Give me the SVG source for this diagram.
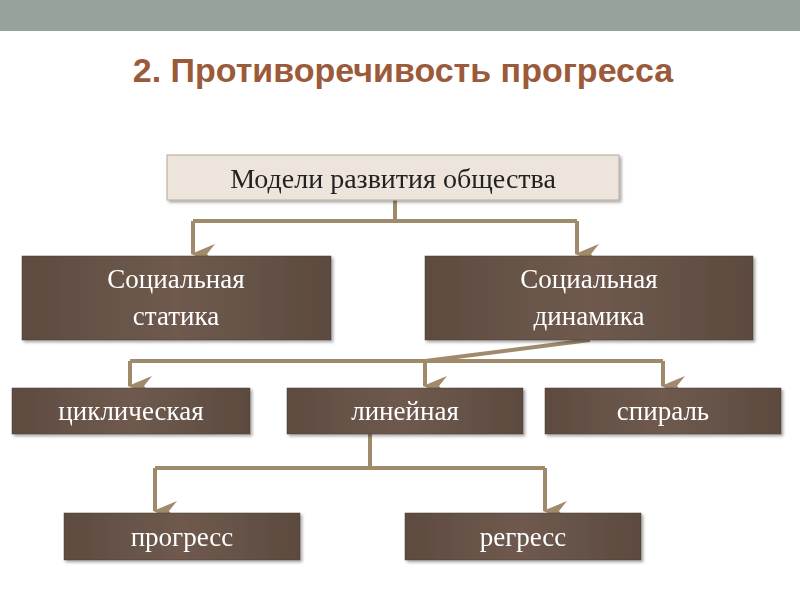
<svg xmlns="http://www.w3.org/2000/svg" width="800" height="600" viewBox="0 0 800 600">
<style>
.box{fill:url(#bg);stroke:#4a3a30;stroke-width:0.5}
.bt{font-family:"Liberation Serif",serif;font-size:27px;fill:#fff;text-anchor:middle}
.ln{fill:none;stroke:#a08a6c;stroke-width:4}
</style>
<defs>
<linearGradient id="bg" x1="0" x2="1" y1="0" y2="0">
<stop offset="0" stop-color="#5e4b40"/><stop offset="0.5" stop-color="#6f5a4e"/><stop offset="1" stop-color="#5c4a3f"/>
</linearGradient>
<marker id="ar" viewBox="0 0 10 12" refX="5" refY="11" markerWidth="5" markerHeight="6" orient="auto-start-reverse" markerUnits="strokeWidth">
<path d="M0,0 L5,4 L10,0 L5,12 Z" fill="#a08a6c"/>
</marker>
<filter id="sh" x="-5%" y="-5%" width="110%" height="120%"><feDropShadow dx="2" dy="2" stdDeviation="1.5" flood-opacity="0.35"/></filter>
</defs>
<rect width="800" height="600" fill="#fff"/>
<rect width="800" height="31" fill="#95a39a"/>
<text x="403" y="82" font-family="Liberation Sans,sans-serif" font-weight="bold" font-size="34" fill="#9b5a3a" text-anchor="middle">2. Противоречивость прогресса</text>
<g id="connectors">
<path class="ln" d="M395,200 V221 M193,221 H577"/>
<path class="ln" d="M193,221 V254" marker-end="url(#ar)"/>
<path class="ln" d="M577,221 V254" marker-end="url(#ar)"/>
<path class="ln" d="M590,340 L425,361 M130,361 H663"/>
<path class="ln" d="M130,361 V386" marker-end="url(#ar)"/>
<path class="ln" d="M425,361 V386" marker-end="url(#ar)"/>
<path class="ln" d="M663,361 V386" marker-end="url(#ar)"/>
<path class="ln" d="M370,434 V468 M155,468 H545"/>
<path class="ln" d="M155,468 V511" marker-end="url(#ar)"/>
<path class="ln" d="M545,468 V511" marker-end="url(#ar)"/>
</g>
<g id="root" filter="url(#sh)"><rect x="167" y="155" width="452" height="45" fill="#ede4dc" stroke="#b8a898"/><text x="393" y="188" font-family="Liberation Serif,serif" font-size="28" fill="#222" text-anchor="middle">Модели развития общества</text></g>
<g id="statika" filter="url(#sh)"><rect class="box" x="22" y="256" width="309" height="84"/><text class="bt" x="176" y="288">Социальная</text><text class="bt" x="176" y="325">статика</text></g>
<g id="dinamika" filter="url(#sh)"><rect class="box" x="425" y="256" width="328" height="84"/><text class="bt" x="589" y="288">Социальная</text><text class="bt" x="589" y="325">динамика</text></g>
<g id="cycl" filter="url(#sh)"><rect class="box" x="12" y="388" width="238" height="46"/><text class="bt" x="131" y="420">циклическая</text></g>
<g id="lin" filter="url(#sh)"><rect class="box" x="287" y="388" width="236" height="46"/><text class="bt" x="405" y="420">линейная</text></g>
<g id="spir" filter="url(#sh)"><rect class="box" x="545" y="388" width="236" height="46"/><text class="bt" x="663" y="420">спираль</text></g>
<g id="prog" filter="url(#sh)"><rect class="box" x="64" y="513" width="236" height="47"/><text class="bt" x="182" y="546">прогресс</text></g>
<g id="regr" filter="url(#sh)"><rect class="box" x="405" y="513" width="236" height="47"/><text class="bt" x="523" y="546">регресс</text></g>
</svg>
